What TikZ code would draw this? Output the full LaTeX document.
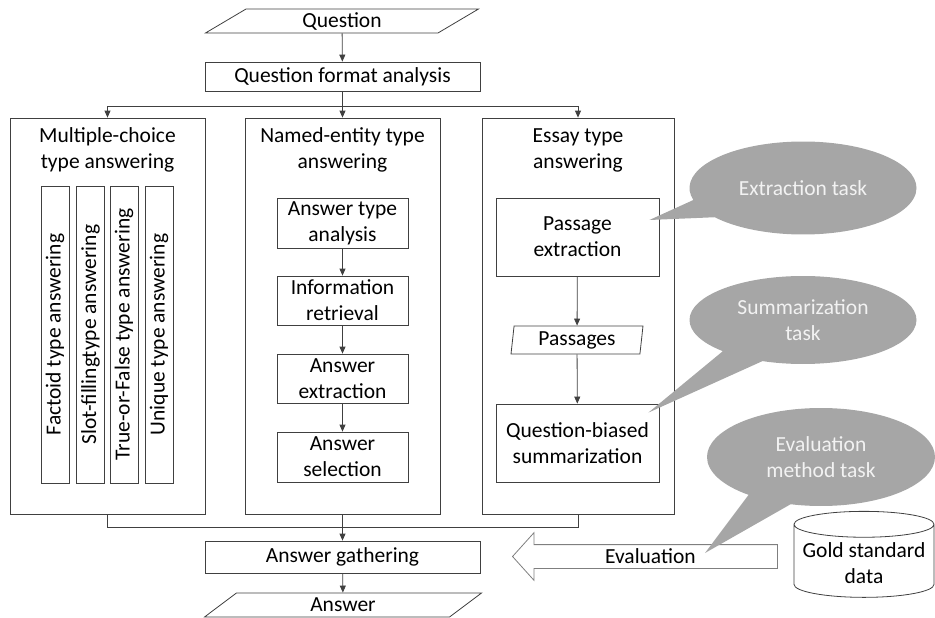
\documentclass[tikz,border=0pt]{standalone}
\usepackage{fontspec}
\setmainfont{Carlito}
\usetikzlibrary{arrows.meta,shapes.geometric,shapes.arrows,shapes.callouts}
\definecolor{linegray}{HTML}{404040}
\definecolor{arrowgray}{HTML}{7F7F7F}
\definecolor{bubblegray}{HTML}{A6A6A6}

\begin{document}
\begin{tikzpicture}[x=1pt, y=-1pt,
    font=\fontsize{21.5}{26}\selectfont,
    >={Triangle[length=7pt,width=6pt]},
    box/.style={draw=linegray, line width=0.8pt, align=center, inner sep=1pt},
    io/.style={box, trapezium, trapezium stretches body, inner sep=0pt},
    panel/.style={draw=linegray, line width=0.8pt, inner sep=0pt},
    flow/.style={draw=linegray, line width=0.8pt, ->},
    link/.style={draw=linegray, line width=0.8pt},
    bubble/.style={ellipse callout, fill=bubblegray, text=white!95!black, align=center, callout pointer arc=24}]
    \useasboundingbox (0,0) rectangle (935,618);

    % Input and format analysis
    \node[io, trapezium left angle=23.6, trapezium right angle=156.4, minimum width=273, minimum height=24] (question) at (342,21) {Question};
    \node[box, minimum width=275, minimum height=29] (format) at (342.5,76.5) {Question format analysis};

    % Three answering panels
    \node[panel, minimum width=195, minimum height=396] (mc) at (107.5,316) {};
    \node[panel, minimum width=195, minimum height=396] (ne) at (342.5,316) {};
    \node[panel, minimum width=192, minimum height=396] (essay) at (578,316) {};
    \node[align=center] (mctitle) at (107.5,150) {Multiple-choice\\type answering};
    \node[align=center] (netitle) at (342.5,150) {Named-entity type\\answering};
    \node[align=center] (essaytitle) at (578,150) {Essay type\\answering};

    % Multiple-choice sub types (vertical)
    \foreach \x/\txt [count=\i] in {55/Factoid type answering, 90.5/Slot-fillingtype answering, 124/True-or-False type answering, 159/Unique type answering}
        \node[box, rotate=90, minimum width=297, minimum height=28, inner sep=0pt] (mc\i) at (\x,334.5) {\txt};

    % Named-entity chain
    \node[box, minimum width=131, minimum height=50] (atype) at (342.5,223) {Answer type\\analysis};
    \node[box, minimum width=131, minimum height=49] (ir) at (342.5,300.5) {Information\\retrieval};
    \node[box, minimum width=131, minimum height=49] (aext) at (342.5,378.5) {Answer\\extraction};
    \node[box, minimum width=131, minimum height=50] (asel) at (342.5,457) {Answer\\selection};

    % Essay chain
    \node[box, minimum width=163, minimum height=78] (pext) at (577.5,237) {Passage\\extraction};
    \node[io, trapezium left angle=80, trapezium right angle=100, minimum width=132, minimum height=28] (passages) at (577,340) {Passages};
    \node[box, minimum width=163, minimum height=78] (qbs) at (577.5,443) {Question-biased\\summarization};

    % Output
    \node[box, minimum width=275, minimum height=32] (gather) at (342.5,557) {Answer gathering};
    \node[io, trapezium left angle=23.6, trapezium right angle=156.4, minimum width=277, minimum height=24] (answer) at (343,605) {Answer};

    % Evaluation
    \node[single arrow, draw=arrowgray, line width=0.8pt, shape border rotate=180, single arrow head extend=12pt, single arrow tip angle=96, minimum height=265, text height=14pt, text depth=1pt, inner ysep=4pt, anchor=tip] (evalarrow) at (512,556.5) {Evaluation};
    \node[cylinder, draw=linegray, line width=0.8pt, shape border rotate=90, aspect=0.2, minimum width=140, minimum height=86, align=center] (gold) at (864,563) {Gold standard\\data};
    \coordinate (evalpoint) at (705,553);

    % Task callouts
    \node[bubble, minimum width=227, minimum height=93, callout absolute pointer={([xshift=-10pt,yshift=17pt]pext.east)}] (extask) at (803,188) {Extraction task};
    \node[bubble, minimum width=227, minimum height=88, callout absolute pointer={([xshift=-11pt,yshift=-9pt]qbs.north east)}] (sumtask) at (803,320) {Summarization\\task};
    \node[bubble, minimum width=228, minimum height=98, callout absolute pointer={(evalpoint)}] (evaltask) at (821,457) {Evaluation\\method task};

    % Connectors
    \coordinate (split) at (342.5,106);
    \coordinate (merge) at (342.5,527);
    \draw[flow] (question) -- (format);
    \draw[flow] (format) -- (ne);
    \draw[flow] (split) -| (mc.north);
    \draw[flow] (split) -| (essay.north);
    \draw[flow] (atype) -- (ir);
    \draw[flow] (ir) -- (aext);
    \draw[flow] (aext) -- (asel);
    \draw[flow] (pext) -- (passages);
    \draw[flow] (passages) -- (qbs);
    \draw[link] (mc.south) |- (merge);
    \draw[link] (essay.south) |- (merge);
    \draw[flow] (ne) -- (gather);
    \draw[flow] (gather) -- (answer);
\end{tikzpicture}
\end{document}
